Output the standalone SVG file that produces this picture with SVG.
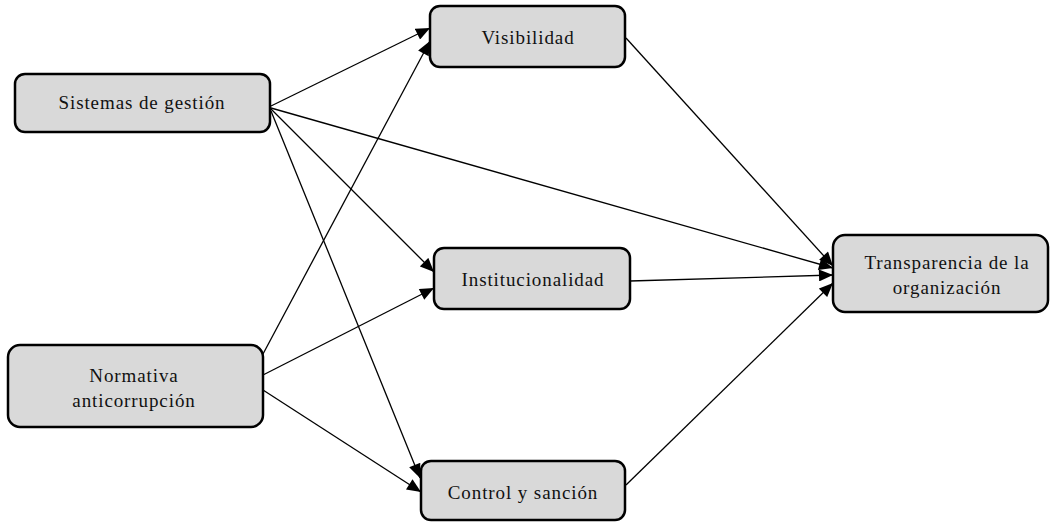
<svg xmlns="http://www.w3.org/2000/svg" width="1050" height="522" viewBox="0 0 1050 522">
<defs>
<marker id="ah" viewBox="0 0 14 12" refX="14" refY="6" markerWidth="15" markerHeight="12" markerUnits="userSpaceOnUse" orient="auto">
<path d="M0,0 L14,6 L0,12 z" fill="#000"/>
</marker>
<style>
.box{fill:#d9d9d9;stroke:#000;stroke-width:2.5}
.lbl{font-family:"Liberation Serif","Times New Roman",serif;font-size:19px;letter-spacing:0.9px;fill:#111;text-anchor:middle}
.c{stroke:#000;stroke-width:1.3;fill:none;marker-end:url(#ah)}
</style>
</defs>
<rect width="1050" height="522" fill="#fff"/>
<g id="connectors">
<line class="c" x1="271" y1="106" x2="430" y2="28"/>
<line class="c" x1="271" y1="109" x2="434" y2="272"/>
<line class="c" x1="271" y1="111" x2="420" y2="478"/>
<line class="c" x1="271" y1="108" x2="833" y2="268"/>
<line class="c" x1="263" y1="354" x2="430" y2="41"/>
<line class="c" x1="263" y1="375" x2="434" y2="288"/>
<line class="c" x1="263" y1="390" x2="421" y2="492"/>
<line class="c" x1="626" y1="38" x2="833" y2="266"/>
<line class="c" x1="630" y1="281" x2="833" y2="275"/>
<line class="c" x1="626" y1="485" x2="833" y2="283"/>
</g>
<g id="sistemas">
<rect class="box" x="15" y="74" width="255" height="58" rx="10"/>
<text class="lbl" x="142" y="109">Sistemas de gestión</text>
</g>
<g id="normativa">
<rect class="box" x="8" y="345" width="255" height="82" rx="12"/>
<text class="lbl" x="134" y="382">Normativa</text>
<text class="lbl" x="134" y="407">anticorrupción</text>
</g>
<g id="visibilidad">
<rect class="box" x="430" y="6" width="195" height="61" rx="10"/>
<text class="lbl" x="528" y="44">Visibilidad</text>
</g>
<g id="institucionalidad">
<rect class="box" x="434" y="248" width="196" height="61" rx="10"/>
<text class="lbl" x="533" y="286">Institucionalidad</text>
</g>
<g id="control">
<rect class="box" x="421" y="461" width="204" height="59" rx="10"/>
<text class="lbl" x="523" y="499">Control y sanción</text>
</g>
<g id="transparencia">
<rect class="box" x="833" y="235" width="215" height="77" rx="12"/>
<text class="lbl" x="947" y="269">Transparencia de la</text>
<text class="lbl" x="947" y="294">organización</text>
</g>
</svg>
